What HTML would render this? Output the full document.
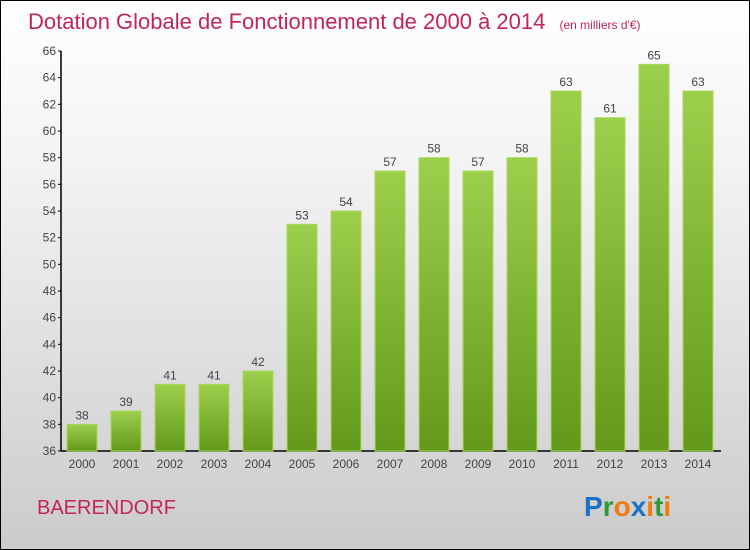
<!DOCTYPE html>
<html><head><meta charset="utf-8"><style>
body{margin:0}
#wrap{position:relative;width:748px;height:548px;border:1px solid #000;background:linear-gradient(#fff,#f3f3f3 30%,#cbcbcb);font-family:"Liberation Sans",sans-serif;overflow:hidden}
</style></head><body>
<div id="wrap">
<svg width="748" height="548">
<defs><linearGradient id="g" x1="0" y1="0" x2="0" y2="1"><stop offset="0" stop-color="#9ccf4c"/><stop offset="1" stop-color="#63991a"/></linearGradient></defs>
<text x="27" y="28" font-size="22" fill="#c4245c">Dotation Globale de Fonctionnement de 2000 à 2014 <tspan font-size="12" dx="8">(en milliers d'€)</tspan></text>
<g id="axes"></g><g id="bars"></g>
<text x="36" y="513" font-size="20" fill="#c4245c">BAERENDORF</text>
<text x="583" y="515" font-size="28" font-weight="bold"><tspan fill="#1a72c8">P</tspan><tspan fill="#2e9a3a">r</tspan><tspan fill="#f07a10">o</tspan><tspan fill="#1a72c8">x</tspan><tspan fill="#f07a10">i</tspan><tspan fill="#2e9a3a">t</tspan><tspan fill="#f07a10">i</tspan></text>
</svg></div>
<script>
const years=["2000","2001","2002","2003","2004","2005","2006","2007","2008","2009","2010","2011","2012","2013","2014"];
const values=[38,39,41,41,42,53,54,57,58,57,58,63,61,65,63];
const yTicks=[36,38,40,42,44,46,48,50,52,54,56,58,60,62,64,66];
const NS="http://www.w3.org/2000/svg";
const y=v=>450-(v-36)*(400/30);
const x=i=>81+i*44;
function mk(t,a,p,txt){const e=document.createElementNS(NS,t);for(const k in a)e.setAttribute(k,a[k]);if(txt!=null)e.textContent=txt;p.appendChild(e);return e;}
const ax=document.getElementById('axes'),bg=document.getElementById('bars');
const yl=mk('line',{x1:60,y1:y(66),x2:60,y2:450,stroke:'#000','stroke-width':1.5},ax);


const xl=mk('line',{x1:60,y1:450,x2:720,y2:450,stroke:'#000','stroke-width':1.5},ax);


yTicks.forEach(v=>{
 mk('line',{x1:57,y1:y(v),x2:60,y2:y(v),stroke:'#000'},ax);
 const t=mk('text',{x:55,y:y(v)+4,'font-size':12,fill:'#444','text-anchor':'end'},ax,v);
 
 
});
years.forEach((yr,i)=>{
 const r=mk('rect',{x:x(i)-15,y:y(values[i]),width:30,height:450-y(values[i]),fill:'url(#g)',stroke:'#a8d85c','stroke-width':1},bg);
 
 
 const l=mk('text',{x:x(i),y:y(values[i])-5,'font-size':12,fill:'#444','text-anchor':'middle'},bg,values[i]);
 
 
 const xt=mk('text',{x:x(i),y:467,'font-size':12,fill:'#444','text-anchor':'middle'},ax,yr);
 
 
});
</script>
</body></html>
